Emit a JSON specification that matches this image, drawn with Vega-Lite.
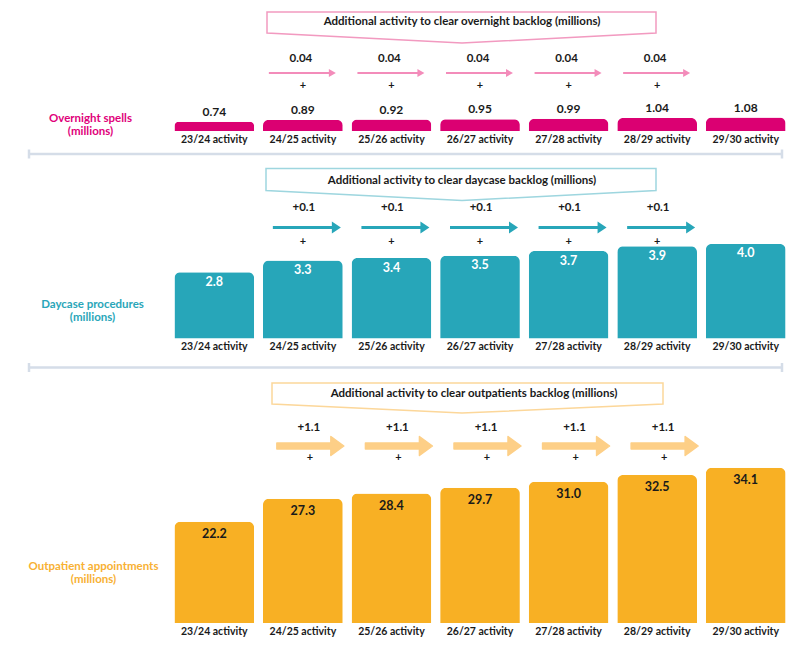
{
  "$schema": "https://vega.github.io/schema/vega-lite/v6.json",
  "padding": {"left": 27, "top": 6, "right": 0, "bottom": 0},
  "background": "white",
  "spacing": 3.5,
  "config": {"view": {"stroke": null}, "font": "Lato", "axis": {"grid": false}},
  "datasets": {
    "overnight": [
      {"period": "23/24 activity", "value": 0.74, "extra": null},
      {"period": "24/25 activity", "value": 0.89, "extra": 0.04},
      {"period": "25/26 activity", "value": 0.92, "extra": 0.04},
      {"period": "26/27 activity", "value": 0.95, "extra": 0.04},
      {"period": "27/28 activity", "value": 0.99, "extra": 0.04},
      {"period": "28/29 activity", "value": 1.04, "extra": 0.04},
      {"period": "29/30 activity", "value": 1.08, "extra": null}
    ],
    "daycase": [
      {"period": "23/24 activity", "value": 2.8, "extra": null},
      {"period": "24/25 activity", "value": 3.3, "extra": 0.1},
      {"period": "25/26 activity", "value": 3.4, "extra": 0.1},
      {"period": "26/27 activity", "value": 3.5, "extra": 0.1},
      {"period": "27/28 activity", "value": 3.7, "extra": 0.1},
      {"period": "28/29 activity", "value": 3.9, "extra": 0.1},
      {"period": "29/30 activity", "value": 4.0, "extra": null}
    ],
    "outpatient": [
      {"period": "23/24 activity", "value": 22.2, "extra": null},
      {"period": "24/25 activity", "value": 27.3, "extra": 1.1},
      {"period": "25/26 activity", "value": 28.4, "extra": 1.1},
      {"period": "26/27 activity", "value": 29.7, "extra": 1.1},
      {"period": "27/28 activity", "value": 31.0, "extra": 1.1},
      {"period": "28/29 activity", "value": 32.5, "extra": 1.1},
      {"period": "29/30 activity", "value": 34.1, "extra": null}
    ]
  },
  "vconcat": [
    {
      "width": 620,
      "height": 125,
      "data": {"name": "overnight"},
      "encoding": {
        "x": {
          "field": "period", "type": "nominal",
          "scale": {"paddingInner": 0.1, "paddingOuter": 0.05},
          "axis": {"title": null, "labelAngle": 0, "domain": false, "ticks": false, "labelFont": "Lato", "labelFontWeight": "bold", "labelFontSize": 10.5, "labelColor": "#1a1a1a", "labelPadding": 3}
        }
      },
      "layer": [
        {
          "transform": [{"filter": "datum.period == '26/27 activity'"}],
          "mark": {"type": "point", "shape": "M-213,-10L176,-10L176,11L-18,21L-213,11Z", "size": 4, "filled": true, "fill": "white", "stroke": "#f29ac0", "strokeWidth": 1.5, "opacity": 1},
          "encoding": {"y": {"datum": 8.72, "type": "quantitative"}}
        },
        {
          "transform": [{"filter": "datum.period == '26/27 activity'"}],
          "mark": {"type": "text", "text": "Additional activity to clear overnight backlog (millions)", "dx": -18, "fontSize": 11.5, "fontWeight": "bold", "color": "#1a1a1a", "baseline": "middle"},
          "encoding": {"y": {"datum": 8.72, "type": "quantitative"}}
        },
        {
          "transform": [{"filter": "datum.extra != null"}],
          "mark": {"type": "text", "fontSize": 11.5, "fontWeight": "bold", "color": "#1a1a1a", "baseline": "middle", "dx": -2},
          "encoding": {"y": {"datum": 5.76, "type": "quantitative"}, "text": {"field": "extra", "type": "quantitative", "format": ".2f"}}
        },
        {
          "transform": [{"filter": "datum.extra != null"}],
          "mark": {"type": "point", "shape": "M-34,-1L26,-1L26,-4L33,0L26,4L26,1L-34,1Z", "size": 4, "filled": true, "color": "#f38cba", "opacity": 1},
          "encoding": {"y": {"datum": 4.64, "type": "quantitative"}}
        },
        {
          "transform": [{"filter": "datum.extra != null"}],
          "mark": {"type": "text", "text": "+", "fontSize": 11, "fontWeight": "bold", "color": "#1a1a1a", "baseline": "middle"},
          "encoding": {"y": {"datum": 3.6, "type": "quantitative"}}
        },
        {
          "mark": {"type": "bar", "color": "#db0072", "cornerRadiusTopLeft": 6, "cornerRadiusTopRight": 6},
          "encoding": {
            "y": {
              "field": "value", "type": "quantitative", "scale": {"domain": [0, 10], "nice": false},
              "axis": {"title": ["Overnight spells", "(millions)"], "labels": false, "ticks": false, "domain": false, "grid": false, "titleAngle": 0, "titleX": -80, "titleY": 112.5, "titleAlign": "center", "titleBaseline": "middle", "titleColor": "#e0007a", "titleFont": "Lato", "titleFontSize": 11.5, "titleFontWeight": "bold", "titleLineHeight": 13}
            }
          }
        },
        {
          "mark": {"type": "text", "baseline": "bottom", "dy": -3, "fontSize": 12, "fontWeight": "bold", "color": "#1a1a1a"},
          "encoding": {"y": {"field": "value", "type": "quantitative"}, "text": {"field": "value", "type": "quantitative", "format": ".2f"}}
        },
        {
          "transform": [{"filter": "datum.period == '23/24 activity'"}],
          "mark": {"type": "rule", "color": "#d5dde8", "strokeWidth": 2.5},
          "encoding": {"x": {"value": -141}, "x2": {"value": 612}, "y": {"value": 148}}
        },
        {
          "transform": [{"filter": "datum.period != '24/25 activity' && datum.period != '25/26 activity' && datum.period != '26/27 activity' && datum.period != '27/28 activity' && datum.period != '28/29 activity' && datum.period != '29/30 activity'"}],
          "mark": {"type": "rule", "color": "#d5dde8", "strokeWidth": 2.5},
          "encoding": {"x": {"value": -141}, "y": {"value": 143.5}, "y2": {"value": 152.5}}
        },
        {
          "transform": [{"filter": "datum.period == '23/24 activity'"}],
          "mark": {"type": "rule", "color": "#d5dde8", "strokeWidth": 2.5},
          "encoding": {"x": {"value": 612}, "y": {"value": 143.5}, "y2": {"value": 152.5}}
        }
      ]
    },
    {
      "width": 620,
      "height": 175,
      "data": {"name": "daycase"},
      "encoding": {
        "x": {
          "field": "period", "type": "nominal",
          "scale": {"paddingInner": 0.1, "paddingOuter": 0.05},
          "axis": {"title": null, "labelAngle": 0, "domain": false, "ticks": false, "labelFont": "Lato", "labelFontWeight": "bold", "labelFontSize": 10.5, "labelColor": "#1a1a1a", "labelPadding": 3}
        }
      },
      "layer": [
        {
          "transform": [{"filter": "datum.period == '26/27 activity'"}],
          "mark": {"type": "point", "shape": "M-214,-12L176,-12L176,10L-18,20L-214,10Z", "size": 4, "filled": true, "fill": "white", "stroke": "#9ed6df", "strokeWidth": 1.5, "opacity": 1},
          "encoding": {"y": {"datum": 6.68, "type": "quantitative"}}
        },
        {
          "transform": [{"filter": "datum.period == '26/27 activity'"}],
          "mark": {"type": "text", "text": "Additional activity to clear daycase backlog (millions)", "dx": -18, "fontSize": 11.5, "fontWeight": "bold", "color": "#1a1a1a", "baseline": "middle"},
          "encoding": {"y": {"datum": 6.68, "type": "quantitative"}}
        },
        {
          "transform": [{"filter": "datum.extra != null"}],
          "mark": {"type": "text", "fontSize": 11.5, "fontWeight": "bold", "color": "#1a1a1a", "baseline": "middle", "dx": 1},
          "encoding": {"y": {"datum": 5.5, "type": "quantitative"}, "text": {"field": "extra", "type": "quantitative", "format": "+.1f"}}
        },
        {
          "transform": [{"filter": "datum.extra != null"}],
          "mark": {"type": "point", "shape": "M-30,-1.5L29,-1.5L29,-6L38,0L29,6L29,1.5L-30,1.5Z", "size": 4, "filled": true, "color": "#27a6b9", "opacity": 1},
          "encoding": {"y": {"datum": 4.69, "type": "quantitative"}}
        },
        {
          "transform": [{"filter": "datum.extra != null"}],
          "mark": {"type": "text", "text": "+", "fontSize": 11, "fontWeight": "bold", "color": "#1a1a1a", "baseline": "middle"},
          "encoding": {"y": {"datum": 4.06, "type": "quantitative"}}
        },
        {
          "mark": {"type": "bar", "color": "#27a6b9", "cornerRadiusTopLeft": 6, "cornerRadiusTopRight": 6},
          "encoding": {
            "y": {
              "field": "value", "type": "quantitative", "scale": {"domain": [0, 7.4], "nice": false},
              "axis": {"title": ["Daycase procedures", "(millions)"], "labels": false, "ticks": false, "domain": false, "grid": false, "titleAngle": 0, "titleX": -78, "titleY": 140.5, "titleAlign": "center", "titleBaseline": "middle", "titleColor": "#2aa6b9", "titleFont": "Lato", "titleFontSize": 11.5, "titleFontWeight": "bold", "titleLineHeight": 13}
            }
          }
        },
        {
          "mark": {"type": "text", "baseline": "middle", "dy": 9.5, "fontSize": 12.5, "fontWeight": "bold", "color": "white"},
          "encoding": {"y": {"field": "value", "type": "quantitative"}, "text": {"field": "value", "type": "quantitative", "format": ".1f"}}
        },
        {
          "transform": [{"filter": "datum.period == '23/24 activity'"}],
          "mark": {"type": "rule", "color": "#d5dde8", "strokeWidth": 2.5},
          "encoding": {"x": {"value": -141}, "x2": {"value": 612}, "y": {"value": 204}}
        },
        {
          "transform": [{"filter": "datum.period == '23/24 activity'"}],
          "mark": {"type": "rule", "color": "#d5dde8", "strokeWidth": 2.5},
          "encoding": {"x": {"value": -141}, "y": {"value": 199.5}, "y2": {"value": 208.5}}
        },
        {
          "transform": [{"filter": "datum.period == '23/24 activity'"}],
          "mark": {"type": "rule", "color": "#d5dde8", "strokeWidth": 2.5},
          "encoding": {"x": {"value": 612}, "y": {"value": 199.5}, "y2": {"value": 208.5}}
        }
      ]
    },
    {
      "width": 620,
      "height": 246,
      "data": {"name": "outpatient"},
      "encoding": {
        "x": {
          "field": "period", "type": "nominal",
          "scale": {"paddingInner": 0.1, "paddingOuter": 0.05},
          "axis": {"title": null, "labelAngle": 0, "domain": false, "ticks": false, "labelFont": "Lato", "labelFontWeight": "bold", "labelFontSize": 10.5, "labelColor": "#1a1a1a", "labelPadding": 3}
        }
      },
      "layer": [
        {
          "transform": [{"filter": "datum.period == '26/27 activity'"}],
          "mark": {"type": "point", "shape": "M-208,-11L183,-11L183,10L-18,19L-208,10Z", "size": 4, "filled": true, "fill": "white", "stroke": "#fcd79a", "strokeWidth": 1.5, "opacity": 1},
          "encoding": {"y": {"datum": 50.26, "type": "quantitative"}}
        },
        {
          "transform": [{"filter": "datum.period == '26/27 activity'"}],
          "mark": {"type": "text", "text": "Additional activity to clear outpatients backlog (millions)", "dx": -6, "fontSize": 11.5, "fontWeight": "bold", "color": "#1a1a1a", "baseline": "middle"},
          "encoding": {"y": {"datum": 50.26, "type": "quantitative"}}
        },
        {
          "transform": [{"filter": "datum.extra != null"}],
          "mark": {"type": "text", "fontSize": 11.5, "fontWeight": "bold", "color": "#1a1a1a", "baseline": "middle", "dx": 6},
          "encoding": {"y": {"datum": 42.8, "type": "quantitative"}, "text": {"field": "extra", "type": "quantitative", "format": "+.1f"}}
        },
        {
          "transform": [{"filter": "datum.extra != null"}],
          "mark": {"type": "point", "shape": "M-26,-3L28,-3L28,-9.5L41,0L28,9.5L28,3L-26,3Z", "size": 4, "filled": true, "color": "#fdcf87", "stroke": "#fdcf87", "strokeWidth": 1.5, "strokeJoin": "round", "opacity": 1},
          "encoding": {"y": {"datum": 38.85, "type": "quantitative"}}
        },
        {
          "transform": [{"filter": "datum.extra != null"}],
          "mark": {"type": "text", "text": "+", "fontSize": 11, "fontWeight": "bold", "color": "#1a1a1a", "baseline": "middle", "dx": 7},
          "encoding": {"y": {"datum": 36.2, "type": "quantitative"}}
        },
        {
          "mark": {"type": "bar", "color": "#f8b024", "cornerRadiusTopLeft": 6, "cornerRadiusTopRight": 6},
          "encoding": {
            "y": {
              "field": "value", "type": "quantitative", "scale": {"domain": [0, 54], "nice": false},
              "axis": {"title": ["Outpatient appointments", "(millions)"], "labels": false, "ticks": false, "domain": false, "grid": false, "titleAngle": 0, "titleX": -77, "titleY": 189.5, "titleAlign": "center", "titleBaseline": "middle", "titleColor": "#f8b133", "titleFont": "Lato", "titleFontSize": 11.5, "titleFontWeight": "bold", "titleLineHeight": 13}
            }
          }
        },
        {
          "mark": {"type": "text", "baseline": "middle", "dy": 12, "fontSize": 12.5, "fontWeight": "bold", "color": "#1a1a1a"},
          "encoding": {"y": {"field": "value", "type": "quantitative"}, "text": {"field": "value", "type": "quantitative", "format": ".1f"}}
        }
      ]
    }
  ]
}
